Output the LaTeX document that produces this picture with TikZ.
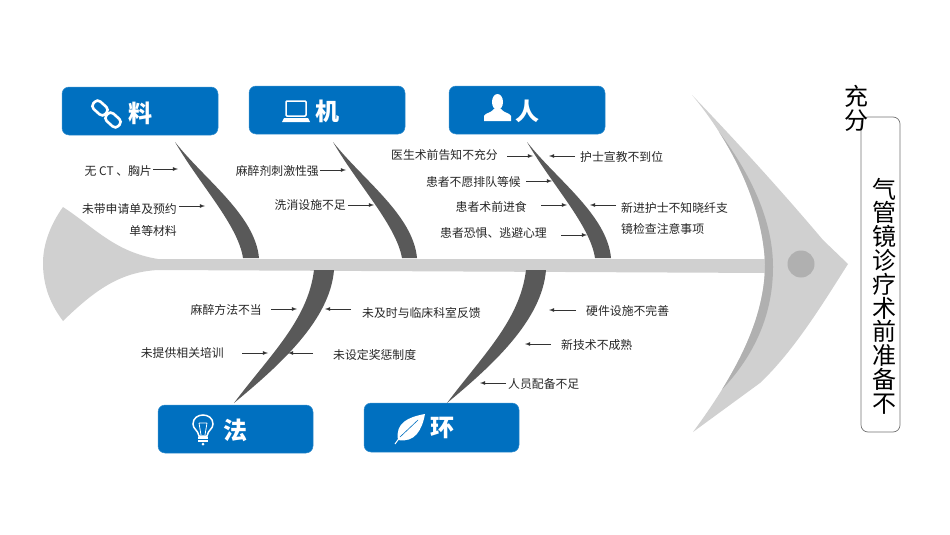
\documentclass[tikz,border=0pt]{standalone}
\usepackage{fontspec}
\setmainfont{Noto Sans CJK SC}
\usepackage{tikz}
\usetikzlibrary{arrows}
\definecolor{boxblue}{HTML}{0070C0}
\definecolor{boneline}{HTML}{595959}
\definecolor{fishbody}{HTML}{D0D0D0}
\definecolor{fishdark}{HTML}{B0B0B0}
\tikzset{>=latex,
  cause/.style={inner sep=0pt,text=black!85,font=\fontsize{11.85}{14}\selectfont},
  catbox/.style={rounded corners=7pt,fill=boxblue,draw=boxblue!80!white,line width=0.5pt},
  catname/.style={inner sep=0pt,text=white,font=\fontsize{24}{28}\selectfont\bfseries},
  headchar/.style={inner sep=0pt,text=black,font=\fontsize{24}{24}\selectfont},
  causearrow/.style={->,line width=0.8pt,black!80},
  bone/.style={fill=boneline},
  icon/.style={draw=white,line width=1.5pt},
}
\begin{document}
\begin{tikzpicture}[x=1pt,y=-1pt]
        \useasboundingbox (0,0) rectangle (950,535);
        % tail and spine
        \fill [fishbody] (63,207) .. controls (95,228) and (115,252) .. (158,259) -- (770,259) -- (770,273) -- (158,270)
          .. controls (120,272) and (95,290) .. (63,321) .. controls (47,300) and (43,280) .. (43,263) .. controls (43,245) and (50,225) .. (63,207) -- cycle;
        % head
        \fill [fishbody] (692,95) .. controls (740,145) and (785,195) .. (823,240) -- (848,264) .. controls (825,300) and (795,350) .. (760,383)
          -- (693,432) .. controls (735,375) and (765,320) .. (765,264) .. controls (763,205) and (730,140) .. (692,95) -- cycle;
        \fill [fishdark] (719,132) .. controls (755,180) and (773,225) .. (773,267) .. controls (773,320) and (750,360) .. (722,389.5)
          .. controls (748.1,347.4) and (765,306) .. (765,264) .. controls (763.5,219.75) and (744.56,171.13) .. (719,132) -- cycle;
        \fill [fishdark] (801,264) circle (13.5);
        % bones
        \fill [bone] (175,142) .. controls (205,180) and (255,215) .. (259,258) -- (243,258) .. controls (238,225) and (200,185) .. (175,142) -- cycle;
        \fill [bone] (333,142) .. controls (363,180) and (413,215) .. (417,258) -- (402,258) .. controls (396,225) and (358,185) .. (333,142) -- cycle;
        \fill [bone] (527,142) .. controls (557,180) and (607,215) .. (611,258) -- (595,258) .. controls (590,225) and (552,185) .. (527,142) -- cycle;
        \fill [bone] (334,270) .. controls (330,320) and (280,365) .. (234,403) .. controls (270,355) and (308,320) .. (314,270) -- cycle;
        \fill [bone] (546,270) .. controls (542,320) and (493,365) .. (447,403) .. controls (483,355) and (520,320) .. (526,270) -- cycle;
        % category boxes
        \draw [catbox] (62,87) rectangle (218,135);
        \draw [catbox] (249,86) rectangle (405,134);
        \draw [catbox] (449,86) rectangle (605,134);
        \draw [catbox] (158,405) rectangle (313,453);
        \draw [catbox] (364,403) rectangle (519,452);
        \node [catname] (liao) at (140,113) {料};
        \node [catname] (ji) at (327,111) {机};
        \node [catname] (ren) at (527,111) {人};
        \node [catname] (fa) at (235,430) {法};
        \node [catname] (huan) at (442,428) {环};
        % icons
        \draw [icon,line width=2.6pt,rounded corners=4pt,rotate around={-42:(100,108)}] (92,103) rectangle (108,113);
        \draw [icon,line width=2.6pt,rounded corners=4pt,rotate around={-42:(113,120)}] (105,115) rectangle (121,125);
        \draw [icon,rounded corners=1pt] (286,101) rectangle (306,116);
        \fill [white] (284,118) -- (308,118) -- (310,122) -- (282,122) -- cycle;
        \fill [white] (497.5,102) ellipse (5.5 and 8);
        \fill [white] (484,121) -- (484,116) .. controls (485,113) and (491,113) .. (494,109) -- (501,109) .. controls (504,113) and (510,113) .. (511,116) -- (511,121) -- cycle;
        \draw [icon] (199,436) .. controls (198,430) and (193,429) .. (193,424) .. controls (193,412) and (213,412) .. (213,424) .. controls (213,429) and (208,430) .. (207,436) -- cycle;
        \draw [white,line width=0.8pt] (199,423) -- (201,435) (207,423) -- (205,435) (199,423) -- (207,423);
        \draw [white,line width=1.8pt] (198,438) -- (208,438) (198,441) -- (208,441);
        \fill [white] (203,444) circle (1.5);
        \fill [white] (425,414) .. controls (408,417) and (395,423) .. (398,440) .. controls (415,443) and (422,430) .. (425,414) -- cycle;
        \draw [white,line width=1pt] (395,444) -- (400,437);
        \draw [boxblue,line width=0.6pt] (400,437) -- (418,420);
        % causes
        \node [cause,anchor=east] (c1) at (152,171) {无 CT 、胸片};
        \coordinate (e1) at (178,169);
        \node [cause,anchor=east] (c2) at (177,209) {未带申请单及预约};
        \node [cause,anchor=east] (c2b) at (177,231) {单等材料};
        \coordinate (e2) at (205,206);
        \node [cause,anchor=east] (c3) at (319,171) {麻醉剂刺激性强};
        \coordinate (e3) at (346,170);
        \node [cause,anchor=east] (c4) at (346,205) {洗消设施不足};
        \coordinate (e4) at (374,205);
        \node [cause,anchor=east] (c5) at (498,155) {医生术前告知不充分};
        \coordinate (e5) at (533,156);
        \node [cause,anchor=west] (c6) at (580,157) {护士宣教不到位};
        \coordinate (e6) at (549,156);
        \node [cause,anchor=east] (c7) at (521,182) {患者不愿排队等候};
        \coordinate (e7) at (552,181);
        \node [cause,anchor=east] (c8) at (527,207) {患者术前进食};
        \coordinate (e8) at (567,205);
        \node [cause,anchor=west] (c9) at (621,208) {新进护士不知晓纤支};
        \node [cause,anchor=west] (c9b) at (621,229) {镜检查注意事项};
        \coordinate (e9) at (590,205);
        \node [cause,anchor=east] (c10) at (547,233) {患者恐惧、逃避心理};
        \coordinate (e10) at (587,235);
        \node [cause,anchor=east] (c11) at (262,310) {麻醉方法不当};
        \coordinate (e11) at (297,309);
        \node [cause,anchor=west] (c12) at (362,313) {未及时与临床科室反馈};
        \coordinate (e12) at (325,309);
        \node [cause,anchor=east] (c13) at (224,353) {未提供相关培训};
        \coordinate (e13) at (268,353);
        \node [cause,anchor=west] (c14) at (333,355) {未设定奖惩制度};
        \coordinate (e14) at (288,353);
        \node [cause,anchor=west] (c15) at (586,311) {硬件设施不完善};
        \coordinate (e15) at (549,310);
        \node [cause,anchor=west] (c16) at (561,345) {新技术不成熟};
        \coordinate (e16) at (525,344);
        \node [cause,anchor=west] (c17) at (508,384) {人员配备不足};
        \coordinate (e17) at (480,383);
        \draw [causearrow] ([xshift=1pt]c1.east |- e1)--(e1);
        \draw [causearrow] ([xshift=2pt]c2.east |- e2)--(e2);
        \draw [causearrow] ([xshift=1pt]c3.east |- e3)--(e3);
        \draw [causearrow] ([xshift=2pt]c4.east |- e4)--(e4);
        \draw [causearrow] ([xshift=9pt]c5.east |- e5)--(e5);
        \draw [causearrow] ([xshift=-5pt]c6.west |- e6)--(e6);
        \draw [causearrow] ([xshift=5pt]c7.east |- e7)--(e7);
        \draw [causearrow] ([xshift=14pt]c8.east |- e8)--(e8);
        \draw [causearrow] ([xshift=-5pt]c9.west |- e9)--(e9);
        \draw [causearrow] ([xshift=14pt]c10.east |- e10)--(e10);
        \draw [causearrow] ([xshift=9pt]c11.east |- e11)--(e11);
        \draw [causearrow] ([xshift=-11pt]c12.west |- e12)--(e12);
        \draw [causearrow] ([xshift=18pt]c13.east |- e13)--(e13);
        \draw [causearrow] ([xshift=-20pt]c14.west |- e14)--(e14);
        \draw [causearrow] ([xshift=-10pt]c15.west |- e15)--(e15);
        \draw [causearrow] ([xshift=-10pt]c16.west |- e16)--(e16);
        \draw [causearrow] ([xshift=-2pt]c17.west |- e17)--(e17);
        % effect
        \draw [rounded corners=7pt,draw=black!55,fill=white,line width=0.7pt] (861,117) rectangle (900,432);
        \node [headchar,align=center,text width=24pt] (effect) at (884,296) {气\\[-0.2pt]管\\[-0.2pt]镜\\[-0.2pt]诊\\[-0.2pt]疗\\[-0.2pt]术\\[-0.2pt]前\\[-0.2pt]准\\[-0.2pt]备\\[-0.2pt]不};
        \node [headchar,align=center,text width=24pt] (effectb) at (856,108) {充\\分};
\end{tikzpicture}
\end{document}
